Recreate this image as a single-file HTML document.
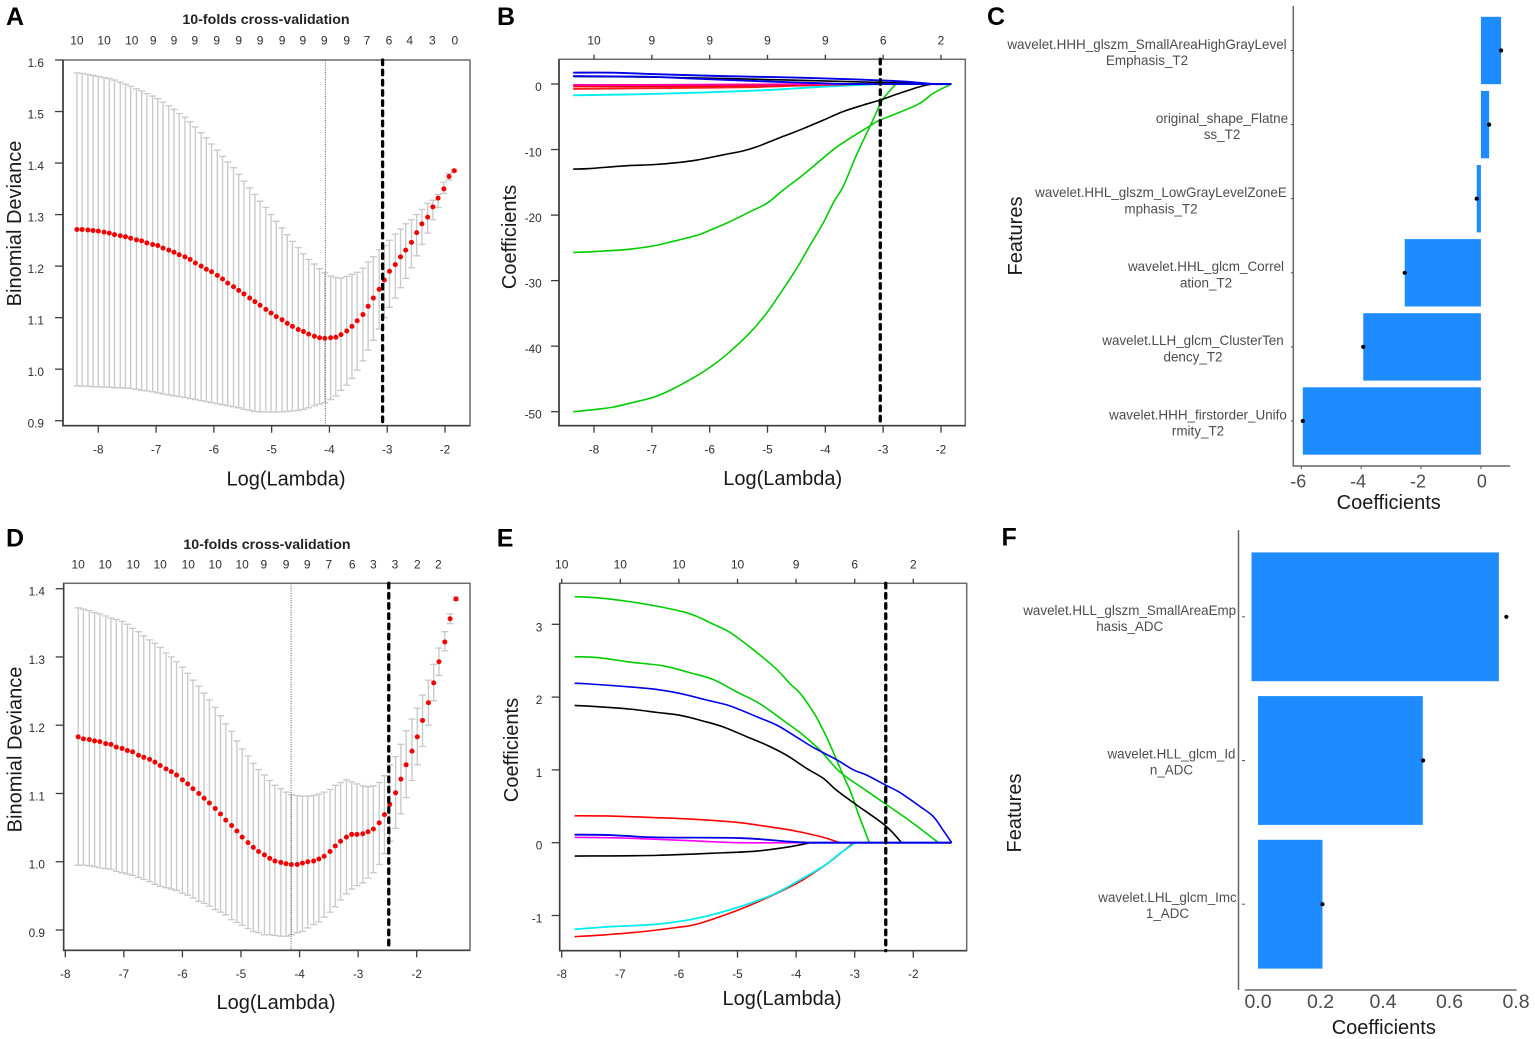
<!DOCTYPE html>
<html lang="en">
<head>
<meta charset="utf-8">
<title>LASSO feature selection panels</title>
<style>
html,body{margin:0;padding:0;background:#fff;width:1535px;height:1039px;overflow:hidden}
svg{display:block;font-family:"Liberation Sans",Arial,sans-serif}
</style>
</head>
<body>
<svg id="fig" xmlns="http://www.w3.org/2000/svg" width="1535" height="1039" viewBox="0 0 1535 1039"></svg>
<script>
/* ---------- Panel A data ---------- */
const logLambdaA = [-8.37,-8.28,-8.18,-8.09,-8.00,-7.90,-7.81,-7.72,-7.62,-7.53,-7.44,-7.34,-7.25,-7.16,-7.06,-6.97,-6.88,-6.78,-6.69,-6.60,-6.50,-6.41,-6.32,-6.22,-6.13,-6.04,-5.94,-5.85,-5.76,-5.66,-5.57,-5.48,-5.38,-5.29,-5.20,-5.10,-5.01,-4.92,-4.82,-4.73,-4.64,-4.54,-4.45,-4.36,-4.26,-4.17,-4.08,-3.98,-3.89,-3.80,-3.70,-3.61,-3.52,-3.42,-3.33,-3.24,-3.14,-3.05,-2.96,-2.86,-2.77,-2.68,-2.58,-2.49,-2.40,-2.30,-2.21,-2.12,-2.02,-1.93,-1.84];
const meanA = [1.271,1.271,1.270,1.269,1.268,1.266,1.264,1.261,1.259,1.257,1.254,1.251,1.249,1.245,1.242,1.240,1.235,1.231,1.227,1.222,1.218,1.213,1.206,1.200,1.194,1.189,1.182,1.175,1.167,1.160,1.153,1.146,1.138,1.131,1.124,1.116,1.109,1.102,1.096,1.089,1.083,1.077,1.073,1.068,1.064,1.061,1.060,1.061,1.062,1.067,1.074,1.083,1.094,1.106,1.122,1.138,1.155,1.173,1.190,1.203,1.218,1.231,1.246,1.265,1.282,1.295,1.315,1.332,1.350,1.374,1.385];
const upperA = [1.575,1.574,1.572,1.570,1.568,1.566,1.564,1.561,1.557,1.553,1.549,1.544,1.540,1.535,1.530,1.525,1.518,1.511,1.504,1.496,1.489,1.480,1.470,1.459,1.449,1.437,1.425,1.413,1.402,1.391,1.378,1.365,1.352,1.339,1.326,1.314,1.300,1.287,1.274,1.261,1.248,1.236,1.224,1.213,1.204,1.195,1.187,1.181,1.178,1.177,1.180,1.184,1.188,1.196,1.208,1.218,1.232,1.240,1.250,1.262,1.272,1.282,1.290,1.300,1.310,1.322,1.328,1.339,1.363,1.380,1.388];
const lowerA = [0.968,0.967,0.967,0.966,0.966,0.965,0.965,0.964,0.964,0.963,0.9625,0.961,0.959,0.958,0.956,0.954,0.952,0.950,0.948,0.947,0.945,0.943,0.941,0.939,0.937,0.935,0.933,0.931,0.929,0.927,0.925,0.922,0.920,0.918,0.917,0.917,0.917,0.917,0.917,0.918,0.919,0.920,0.922,0.925,0.929,0.932,0.935,0.941,0.948,0.959,0.969,0.982,0.998,1.016,1.037,1.056,1.078,1.100,1.120,1.138,1.158,1.176,1.197,1.220,1.242,1.264,1.290,1.314,1.341,1.367,1.383];
const topLogA = [-8.37,-7.90,-7.42,-7.05,-6.69,-6.33,-5.95,-5.57,-5.20,-4.82,-4.46,-4.09,-3.70,-3.35,-2.97,-2.61,-2.22,-1.83];
const topCountsA = ["10","10","10","9","9","9","9","9","9","9","9","9","9","7","6","4","3","0"];
const xTicksA = [-8,-7,-6,-5,-4,-3,-2];
const yTicksA = [0.9,1.0,1.1,1.2,1.3,1.4,1.5,1.6];
const minLambdaA = -4.07;
const seLambdaA = -3.08;

/* ---------- Panel D data ---------- */
const logLambdaD = [-7.78,-7.69,-7.59,-7.50,-7.41,-7.31,-7.22,-7.13,-7.03,-6.94,-6.85,-6.75,-6.66,-6.56,-6.47,-6.38,-6.28,-6.19,-6.10,-6.00,-5.91,-5.82,-5.72,-5.63,-5.54,-5.44,-5.35,-5.26,-5.16,-5.07,-4.98,-4.88,-4.79,-4.70,-4.60,-4.51,-4.42,-4.32,-4.23,-4.14,-4.04,-3.95,-3.86,-3.76,-3.67,-3.58,-3.48,-3.39,-3.30,-3.20,-3.11,-3.02,-2.92,-2.83,-2.74,-2.64,-2.55,-2.46,-2.36,-2.27,-2.18,-2.08,-1.99,-1.90,-1.80,-1.71,-1.62,-1.52,-1.43,-1.33];
const meanD = [1.183,1.180,1.179,1.177,1.176,1.173,1.172,1.168,1.166,1.163,1.161,1.156,1.153,1.150,1.146,1.141,1.136,1.132,1.127,1.120,1.114,1.107,1.100,1.093,1.086,1.078,1.070,1.061,1.053,1.045,1.036,1.028,1.021,1.015,1.010,1.005,1.001,0.999,0.997,0.996,0.996,0.998,1.000,1.001,1.004,1.008,1.015,1.023,1.030,1.036,1.040,1.040,1.041,1.044,1.048,1.057,1.069,1.084,1.101,1.121,1.142,1.162,1.183,1.207,1.233,1.262,1.293,1.322,1.356,1.385];
const upperD = [1.372,1.370,1.368,1.365,1.363,1.360,1.357,1.355,1.352,1.348,1.342,1.337,1.331,1.325,1.320,1.314,1.306,1.300,1.293,1.285,1.276,1.266,1.257,1.247,1.237,1.226,1.214,1.202,1.191,1.177,1.165,1.155,1.144,1.135,1.127,1.119,1.112,1.107,1.102,1.098,1.097,1.096,1.096,1.097,1.099,1.102,1.106,1.112,1.116,1.120,1.117,1.114,1.111,1.110,1.111,1.116,1.126,1.142,1.154,1.172,1.192,1.209,1.225,1.244,1.266,1.289,1.313,1.337,1.363,1.388];
const lowerD = [0.995,0.995,0.994,0.993,0.991,0.990,0.989,0.986,0.984,0.982,0.980,0.977,0.974,0.971,0.967,0.964,0.962,0.960,0.958,0.954,0.951,0.947,0.942,0.939,0.935,0.930,0.926,0.922,0.915,0.911,0.907,0.902,0.898,0.896,0.893,0.893,0.892,0.891,0.891,0.893,0.896,0.898,0.903,0.908,0.912,0.919,0.926,0.934,0.944,0.953,0.960,0.965,0.969,0.976,0.984,0.996,1.012,1.030,1.049,1.070,1.094,1.119,1.142,1.169,1.200,1.236,1.273,1.309,1.349,1.383];
const topLogD = [-7.78,-7.32,-6.84,-6.38,-5.90,-5.44,-4.98,-4.61,-4.23,-3.87,-3.50,-3.10,-2.74,-2.37,-1.99,-1.63];
const topCountsD = ["10","10","10","10","10","10","10","9","9","9","7","6","3","3","2","2"];
const xTicksD = [-8,-7,-6,-5,-4,-3,-2];
const yTicksD = [0.9,1.0,1.1,1.2,1.3,1.4];
const minLambdaD = -4.145;
const seLambdaD = -2.477;

/* ---------- Panel B data: [log lambda, coefficient] ---------- */
const coefBGreenLow = [[-8.36,-50],[-8.07,-49.75],[-7.67,-49.3],[-7.38,-48.7],[-6.97,-47.8],[-6.63,-46.5],[-6.22,-44.5],[-5.99,-43.2],[-5.71,-41.3],[-5.33,-38.2],[-5.01,-34.9],[-4.73,-31.3],[-4.50,-28.2],[-4.27,-24.7],[-4.03,-21.1],[-3.86,-18.1],[-3.69,-15.6],[-3.46,-10.8],[-3.23,-6.5],[-3.05,-3.05],[-2.97,-1.9],[-2.78,0]];
const coefBGreenHigh = [[-8.36,-25.7],[-8.07,-25.6],[-7.67,-25.4],[-7.38,-25.2],[-6.97,-24.7],[-6.63,-24],[-6.22,-23.1],[-5.99,-22.3],[-5.65,-21],[-5.33,-19.6],[-5.01,-18.2],[-4.73,-16.2],[-4.32,-13.4],[-3.80,-9.6],[-3.23,-6.4],[-3.05,-5.5],[-2.42,-3.2],[-2.13,-1.4],[-1.82,0]];
const coefBBlackLow = [[-8.36,-12.98],[-8.07,-12.9],[-7.49,-12.5],[-6.97,-12.3],[-6.57,-12],[-6.22,-11.6],[-5.76,-10.8],[-5.42,-10.2],[-5.19,-9.6],[-4.73,-8],[-4.38,-6.8],[-4.03,-5.5],[-3.69,-4.2],[-3.34,-3.2],[-3.05,-2.44],[-2.71,-1.4],[-2.36,-0.4],[-2.13,0],[-1.82,0]];
const coefBCyan = [[-8.36,-1.73],[-6.92,-1.5],[-5.19,-1],[-4.03,-0.4],[-3.17,-0.05],[-2.78,0]];
const coefBRedLow = [[-8.36,-0.75],[-7.26,-0.65],[-6,-0.55],[-5.19,-0.45],[-4.5,-0.25],[-3.46,0]];
const coefBRedHigh = [[-8.36,-0.35],[-6,-0.3],[-4.5,-0.15],[-3.46,0]];
const coefBMagenta = [[-8.36,-0.15],[-7.26,-0.15],[-5.19,-0.08],[-3.46,0]];
const coefBBlackHigh = [[-8.36,1.15],[-6.92,1.05],[-4.61,0.6],[-2.88,0.2],[-2.13,0]];
const coefBBlueLow = [[-8.36,1.2],[-7.03,1.1],[-6.34,0.85],[-5.19,0.45],[-4.03,0.1],[-3.46,0],[-1.82,0]];
const coefBBlueHigh = [[-8.36,1.73],[-7.67,1.73],[-6.92,1.5],[-5.76,1.2],[-4.61,1.0],[-3.46,0.7],[-2.59,0.35],[-2.13,0],[-1.82,0]];
const topCountsB = ["10","9","9","9","9","6","2"];
const xTicksB = [-8,-7,-6,-5,-4,-3,-2];
const yTicksB = [0,-10,-20,-30,-40,-50];
const seLambdaB = -3.05;

/* ---------- Panel E data: [log lambda, coefficient] ---------- */
const coefEGreenTop = [[-7.78,3.38],[-7.35,3.36],[-6.83,3.31],[-6.38,3.25],[-5.92,3.17],[-5.70,3.11],[-5.41,3.0],[-5.13,2.89],[-4.84,2.72],[-4.62,2.58],[-4.33,2.38],[-4.10,2.18],[-3.93,2.05],[-3.68,1.76],[-3.48,1.45],[-3.31,1.14],[-3.17,0.88],[-3.08,0.72],[-3.02,0.59],[-2.94,0.40],[-2.75,0]];
const coefEGreenMid = [[-7.78,2.555],[-7.35,2.54],[-6.83,2.48],[-6.27,2.43],[-5.81,2.335],[-5.41,2.24],[-5.01,2.07],[-4.62,1.91],[-4.22,1.68],[-3.93,1.51],[-3.59,1.27],[-3.25,0.97],[-2.81,0.72],[-2.47,0.53],[-2.06,0.30],[-1.57,0]];
const coefEBlue = [[-7.78,2.19],[-7.52,2.18],[-6.83,2.14],[-6.38,2.105],[-5.98,2.05],[-5.53,1.96],[-5.13,1.88],[-4.67,1.73],[-4.33,1.615],[-3.99,1.45],[-3.71,1.31],[-3.31,1.14],[-3.02,1.0],[-2.80,0.93],[-2.47,0.79],[-2.23,0.69],[-1.89,0.50],[-1.66,0.36],[-1.49,0.17],[-1.345,0]];
const coefEBlack = [[-7.78,1.885],[-7.35,1.867],[-6.83,1.835],[-6.38,1.79],[-5.98,1.75],[-5.58,1.67],[-5.24,1.59],[-4.84,1.455],[-4.50,1.34],[-4.16,1.2],[-3.82,1.02],[-3.53,0.88],[-3.31,0.72],[-2.97,0.52],[-2.47,0.23],[-2.20,0]];
const coefERedTop = [[-7.78,0.37],[-7.23,0.367],[-6.38,0.344],[-5.70,0.32],[-5.01,0.28],[-4.56,0.23],[-4.10,0.174],[-3.82,0.128],[-3.53,0.073],[-3.26,0]];
const coefEBlueSmall = [[-7.78,0.11],[-7.18,0.105],[-6.38,0.073],[-4.96,0.064],[-4.10,0.014],[-3.76,0]];
const coefEMagenta = [[-7.78,0.073],[-6.95,0.064],[-5.81,0.028],[-4.96,0],[-3.76,0]];
const coefEBlackSmall = [[-7.78,-0.183],[-6.38,-0.174],[-5.24,-0.138],[-4.67,-0.115],[-4.10,-0.055],[-3.76,0]];
const coefECyan = [[-7.78,-1.19],[-7.23,-1.156],[-6.38,-1.12],[-5.70,-1.04],[-4.96,-0.88],[-4.39,-0.71],[-3.99,-0.537],[-3.53,-0.32],[-3.25,-0.147],[-2.99,0]];
const coefERedLow = [[-7.78,-1.29],[-7.35,-1.27],[-6.66,-1.225],[-6.04,-1.165],[-5.70,-1.12],[-5.07,-0.95],[-4.56,-0.78],[-3.99,-0.56],[-3.71,-0.42],[-3.42,-0.26],[-3.02,0]];
const coefEZero = [[-3.76,0],[-1.345,0]];
const topCountsE = ["10","10","10","10","9","6","2"];
const xTicksE = [-8,-7,-6,-5,-4,-3,-2];
const yTicksE = [-1,0,1,2,3];
const seLambdaE = -2.47;

/* ---------- Panel C data ---------- */
const featuresCLine1 = ["wavelet.HHH_glszm_SmallAreaHighGrayLevel","original_shape_Flatne","wavelet.HHL_glszm_LowGrayLevelZoneE","wavelet.HHL_glcm_Correl","wavelet.LLH_glcm_ClusterTen","wavelet.HHH_firstorder_Unifo"];
const featuresCLine2 = ["Emphasis_T2","ss_T2","mphasis_T2","ation_T2","dency_T2","rmity_T2"];
const coefC = [0.675,0.275,-0.14,-2.545,-3.93,-5.95];
const xTicksC = [-6,-4,-2,0];

/* ---------- Panel F data ---------- */
const featuresFLine1 = ["wavelet.HLL_glszm_SmallAreaEmp","wavelet.HLL_glcm_Id","wavelet.LHL_glcm_Imc"];
const featuresFLine2 = ["hasis_ADC","n_ADC","1_ADC"];
const barStartF = [-0.02,0,0];
const barEndF = [0.747,0.511,0.2];
const pointF = [0.77,0.512,0.2];
const xTicksF = ["0.0","0.2","0.4","0.6","0.8"];

/* ---------- helpers ---------- */
const NS = "http://www.w3.org/2000/svg";
const root = document.getElementById("fig");
function mk(tag, attrs, parent){
  const el = document.createElementNS(NS, tag);
  for (const k in attrs) el.setAttribute(k, attrs[k]);
  (parent || root).appendChild(el);
  return el;
}
function scale(d0, p0, d1, p1){ return v => p0 + (v - d0) * (p1 - p0) / (d1 - d0); }
function txt(str, x, y, size, fill, anchor, weight, parent){
  const el = mk("text", {x:x, y:y, "font-size":size, fill:fill, "text-anchor":anchor||"middle", "font-weight":weight||"normal"}, parent);
  el.textContent = str;
  return el;
}
function vtxt(str, x, cy, size, fill, parent){
  const el = mk("text", {transform:"translate("+x+" "+cy+") rotate(-90)", "font-size":size, fill:fill, "text-anchor":"middle"}, parent);
  el.textContent = str;
  return el;
}
function group(name){
  const g = mk("g", {});
  
  
  return g;
}
const TICK = "#2f2f2f";

function lassoFrame(g, box, xs, ys, xTicks, yTicks, xLabelY, yLabelX, topTicks){
  const frame = mk("rect", {x:box.l, y:box.t, width:box.r-box.l, height:box.b-box.t, fill:"none", stroke:"#6a6a6a", "stroke-width":1.5}, g);
  
  
  const ax = mk("path", {d:"M"+box.l+" "+box.t+"V"+box.b+"H"+box.r, fill:"none", stroke:"#3c3c3c", "stroke-width":1.6}, g);
  
  
  xTicks.forEach(t => {
    const tk = mk("path", {d:"M"+xs(t)+" "+box.b+"v7", stroke:"#3c3c3c", "stroke-width":1.3, fill:"none"}, g);
    
    
    const lb = txt(String(t), xs(t), xLabelY, 11.8, TICK, "middle", "normal", g);
    
    
    if (topTicks) {
      const tp = mk("path", {d:"M"+xs(t)+" "+box.t+"v-4.5", stroke:"#3c3c3c", "stroke-width":1.3, fill:"none"}, g);
      
      
    }
  });
  yTicks.forEach(t => {
    const tk = mk("path", {d:"M"+box.l+" "+ys(t)+"h-8", stroke:"#3c3c3c", "stroke-width":1.3, fill:"none"}, g);
    
    
    const s = Number.isInteger(t) && yLabelX.int ? String(t) : t.toFixed(1);
    const lb = txt(s, yLabelX.x, ys(t)+7, 11.8, TICK, "end", "normal", g);
    
    
  });
}
function topCounts(g, logs, labels, xs, y){
  labels.forEach((s, i) => {
    const lb = txt(s, xs(logs[i]), y, 12, TICK, "middle", "normal", g);
    
    
  });
}
function vlineDashed(g, x, box){
  const l = mk("line", {x1:x, x2:x, y1:box.t, y2:box.b, stroke:"#000", "stroke-width":3.3, "stroke-dasharray":"4.6 5.6", "stroke-linecap":"round"}, g);
  
  
}
function vlineDotted(g, x, box){
  const l = mk("line", {x1:x, x2:x, y1:box.t, y2:box.b, stroke:"#555", "stroke-width":1, "stroke-dasharray":"1 1.4"}, g);
  
  
}
function cvMarks(g, logs, mean, up, low, xs, ys){
  logs.forEach((lg, i) => {
    const x = xs(lg), u = ys(up[i]), d = ys(low[i]);
    const bar = mk("path", {d:"M"+x+" "+u+"V"+d+"M"+(x-3.5)+" "+u+"h7M"+(x-3.5)+" "+d+"h7", stroke:"#c9c9c9", "stroke-width":1.35, fill:"none"}, g);
    
    
  });
  logs.forEach((lg, i) => {
    const c = mk("circle", {cx:xs(lg), cy:ys(mean[i]), r:2.5, fill:"#f40000"}, g);
    
    
  });
}
function smoothPath(pts){
  let d = "M" + pts[0][0] + " " + pts[0][1];
  for (let i = 0; i < pts.length - 1; i++) {
    const p0 = pts[Math.max(0, i-1)], p1 = pts[i], p2 = pts[i+1], p3 = pts[Math.min(pts.length-1, i+2)];
    d += "C" + (p1[0]+(p2[0]-p0[0])/6) + " " + (p1[1]+(p2[1]-p0[1])/6) + " " + (p2[0]-(p3[0]-p1[0])/6) + " " + (p2[1]-(p3[1]-p1[1])/6) + " " + p2[0] + " " + p2[1];
  }
  return d;
}
function coefLine(g, pts, color, xs, ys, width){
  const px = pts.map(p => [xs(p[0]), ys(p[1])]);
  const l = mk("path", {d:smoothPath(px), fill:"none", stroke:color, "stroke-width":width||1.6, "stroke-linejoin":"round"}, g);
  
  
}
function panelLetter(s, x, y){
  const el = txt(s, x, y, 25, "#000", "start", "bold");
  
  
}
function axisTitle(g, el, name){
  
  
}

/* ---------- Panel A ---------- */
(function(){
  const g = group("panel-a-cv-deviance");
  const box = {l:63, r:470, t:60, b:425.7};
  const xs = scale(-8, 98.3, -2, 445), ys = scale(0.9, 420.7, 1.6, 60);
  lassoFrame(g, box, xs, ys, xTicksA, yTicksA, 453.5, {x:44}, false);
  cvMarks(g, logLambdaA, meanA, upperA, lowerA, xs, ys);
  vlineDotted(g, xs(minLambdaA), box);
  vlineDashed(g, xs(seLambdaA), box);
  topCounts(g, topLogA, topCountsA, xs, 44.5);
  axisTitle(g, txt("10-folds cross-validation", 266, 24, 14.2, "#222", "middle", "bold", g), "chart-title");
  axisTitle(g, txt("Log(Lambda)", 286, 485.5, 20, "#1a1a1a", "middle", "normal", g), "x-axis-title");
  axisTitle(g, vtxt("Binomial Deviance", 21, 223.5, 20, "#1a1a1a", g), "y-axis-title");
})();

/* ---------- Panel D ---------- */
(function(){
  const g = group("panel-d-cv-deviance");
  const box = {l:63.7, r:470, t:583.3, b:950.3};
  const xs = scale(-8, 65.3, -2, 416.7), ys = scale(0.9, 930, 1.4, 588.7);
  lassoFrame(g, box, xs, ys, xTicksD, yTicksD, 978, {x:45}, false);
  cvMarks(g, logLambdaD, meanD, upperD, lowerD, xs, ys);
  vlineDotted(g, xs(minLambdaD), box);
  vlineDashed(g, xs(seLambdaD), box);
  topCounts(g, topLogD, topCountsD, xs, 568.5);
  axisTitle(g, txt("10-folds cross-validation", 267, 549, 14.2, "#222", "middle", "bold", g), "chart-title");
  axisTitle(g, txt("Log(Lambda)", 276, 1009, 20, "#1a1a1a", "middle", "normal", g), "x-axis-title");
  axisTitle(g, vtxt("Binomial Deviance", 21.5, 749.5, 20, "#1a1a1a", g), "y-axis-title");
})();

/* ---------- Panel B ---------- */
(function(){
  const g = group("panel-b-coefficient-paths");
  const box = {l:559, r:965.3, t:59.3, b:425.7};
  const xs = scale(-8, 594, -2, 941), ys = scale(0, 84, -50, 411.7);
  lassoFrame(g, box, xs, ys, xTicksB, yTicksB, 453.5, {x:541.7, int:true}, true);
  coefLine(g, coefBGreenLow, "#00cd00", xs, ys);
  coefLine(g, coefBGreenHigh, "#00cd00", xs, ys);
  coefLine(g, coefBCyan, "#00eeee", xs, ys, 1.9);
  coefLine(g, coefBRedLow, "#f02020", xs, ys, 2);
  coefLine(g, coefBRedHigh, "#ff0000", xs, ys, 2);
  coefLine(g, coefBMagenta, "#ff00a0", xs, ys, 2);
  coefLine(g, coefBBlackLow, "#000", xs, ys);
  coefLine(g, coefBBlackHigh, "#000", xs, ys);
  coefLine(g, coefBBlueLow, "#0000e6", xs, ys, 1.9);
  coefLine(g, coefBBlueHigh, "#0000e6", xs, ys, 1.9);
  vlineDashed(g, xs(seLambdaB), box);
  topCounts(g, xTicksB, topCountsB, xs, 44.5);
  axisTitle(g, txt("Log(Lambda)", 782.7, 485, 20, "#1a1a1a", "middle", "normal", g), "x-axis-title");
  axisTitle(g, vtxt("Coefficients", 516, 237, 20, "#1a1a1a", g), "y-axis-title");
})();

/* ---------- Panel E ---------- */
(function(){
  const g = group("panel-e-coefficient-paths");
  const box = {l:559.7, r:966.7, t:583.3, b:950.7};
  const xs = scale(-8, 561.7, -2, 913.3), ys = scale(0, 842.7, 3, 624.3);
  lassoFrame(g, box, xs, ys, xTicksE, yTicksE, 978, {x:542.3, int:true}, true);
  coefLine(g, coefEGreenTop, "#00cd00", xs, ys);
  coefLine(g, coefEGreenMid, "#00cd00", xs, ys);
  coefLine(g, coefEBlack, "#000", xs, ys);
  coefLine(g, coefEBlackSmall, "#000", xs, ys);
  coefLine(g, coefERedTop, "#ff0000", xs, ys);
  coefLine(g, coefEMagenta, "#ff00ff", xs, ys);
  coefLine(g, coefEBlueSmall, "#0000e6", xs, ys, 1.8);
  coefLine(g, coefERedLow, "#ff0000", xs, ys);
  coefLine(g, coefECyan, "#00eeee", xs, ys, 1.8);
  coefLine(g, coefEBlue, "#0000e6", xs, ys);
  coefLine(g, coefEZero, "#0000e6", xs, ys, 2.2);
  vlineDashed(g, xs(seLambdaE), box);
  topCounts(g, xTicksE, topCountsE, xs, 568.5);
  axisTitle(g, txt("Log(Lambda)", 782, 1005, 20, "#1a1a1a", "middle", "normal", g), "x-axis-title");
  axisTitle(g, vtxt("Coefficients", 518, 750, 20, "#1a1a1a", g), "y-axis-title");
})();

/* ---------- Panel C ---------- */
(function(){
  const g = group("panel-c-feature-bars");
  const xs = scale(-6, 1301.3, 0, 1480.9);
  const yCenter = i => 50.5 + i * 74.1;
  const labelCenter = [1147, 1222, 1161, 1206, 1193, 1198];
  featuresCLine1.forEach((name, i) => {
    const a = xs(Math.min(0, coefC[i])), b = xs(Math.max(0, coefC[i]));
    const bar = mk("rect", {x:a, y:yCenter(i)-33.7, width:b-a, height:67.4, fill:"#1e8cff"}, g);
    
    
    const dot = mk("circle", {cx:xs(coefC[i]), cy:yCenter(i), r:2.1, fill:"#000"}, g);
    
    
    const tk = mk("path", {d:"M1293.3 "+yCenter(i)+"h-2.6", stroke:"#555", "stroke-width":1}, g);
    
    
    const l1 = txt(name, labelCenter[i], yCenter(i)-1.7, 13.45, "#4d4d4d", "middle", "normal", g);
    
    
    const l2 = txt(featuresCLine2[i], labelCenter[i], yCenter(i)+14.6, 13.45, "#4d4d4d", "middle", "normal", g);
    
    
  });
  const ax = mk("path", {d:"M1293.3 6V466H1510.3", fill:"none", stroke:"#666", "stroke-width":1.5}, g);
  
  
  xTicksC.forEach(t => {
    const tk = mk("path", {d:"M"+xs(t)+" 466v3", stroke:"#555", "stroke-width":1}, g);
    
    
    const lb = txt(String(t), xs(t) + (t < 0 ? -3 : 1), 487.5, 18, "#4d4d4d", "middle", "normal", g);
    
    
  });
  axisTitle(g, txt("Coefficients", 1388.7, 509, 20, "#1a1a1a", "middle", "normal", g), "x-axis-title");
  axisTitle(g, vtxt("Features", 1022, 236, 20, "#1a1a1a", g), "y-axis-title");
})();

/* ---------- Panel F ---------- */
(function(){
  const g = group("panel-f-feature-bars");
  const xs = scale(0, 1258, 0.8, 1516);
  const yCenter = i => 616.8 + i * 143.7;
  const labelCenter = [1129.7, 1171.5, 1167.5];
  featuresFLine1.forEach((name, i) => {
    const a = xs(barStartF[i]), b = xs(barEndF[i]);
    const bar = mk("rect", {x:a, y:yCenter(i)-64.4, width:b-a, height:128.8, fill:"#1e8cff"}, g);
    
    
    const dot = mk("circle", {cx:xs(pointF[i]), cy:yCenter(i), r:2.1, fill:"#000"}, g);
    
    
    const tk = mk("path", {d:"M1242 "+yCenter(i)+"h3", stroke:"#555", "stroke-width":1}, g);
    
    
    const l1 = txt(name, labelCenter[i], yCenter(i)-2, 13.4, "#4d4d4d", "middle", "normal", g);
    
    
    const l2 = txt(featuresFLine2[i], labelCenter[i], yCenter(i)+14, 13.4, "#4d4d4d", "middle", "normal", g);
    
    
  });
  const ay = mk("path", {d:"M1238.5 530V990", fill:"none", stroke:"#666", "stroke-width":1.5}, g);
  
  
  const ah = mk("path", {d:"M1244.8 990H1516.6", fill:"none", stroke:"#666", "stroke-width":1.5}, g);
  
  
  const tickNudge = [0, -2, -4, -2, 0];
  xTicksF.forEach((t, i) => {
    const lb = txt(t, xs(Number(t)) + tickNudge[i], 1008, 19.5, "#4d4d4d", "middle", "normal", g);
    
    
  });
  axisTitle(g, txt("Coefficients", 1383.8, 1034, 20, "#1a1a1a", "middle", "normal", g), "x-axis-title");
  axisTitle(g, vtxt("Features", 1021, 813, 20, "#1a1a1a", g), "y-axis-title");
})();

panelLetter("A", 6, 25);
panelLetter("B", 497, 25);
panelLetter("C", 987, 25);
panelLetter("D", 6, 546.7);
panelLetter("E", 496.7, 546.7);
panelLetter("F", 1001.5, 545.7);
</script>
</body>
</html>
